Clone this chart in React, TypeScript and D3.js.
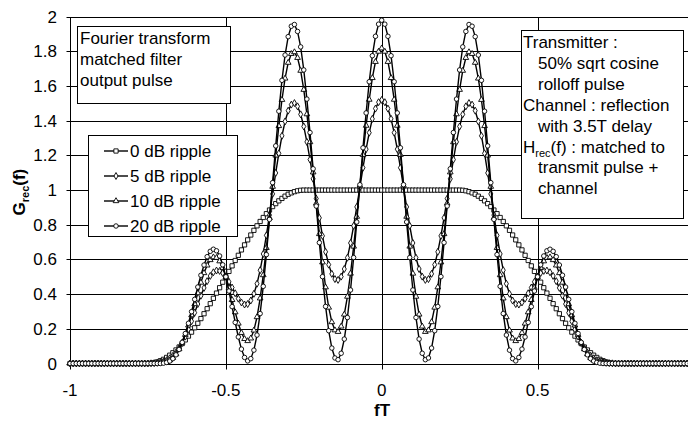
import React from "react";
import * as d3 from "d3";

// sampling grid of fT (step 0.01 from -1 to 1)
const fT: number[] = d3.range(-100, 101).map((k) => k / 100);

const ripple0dB = [
  0,0,0,0,0,0,0,0,0,0,0,0,0,0,0,0,0,0,0,0,0,0,0,0,0,
  0,0.001,0.004,0.009,0.016,0.024,0.035,0.048,0.062,0.078,
  0.095,0.115,0.136,0.158,0.181,0.206,0.232,0.259,0.287,0.316,
  0.345,0.376,0.406,0.437,0.469,0.5,0.531,0.563,0.594,0.624,
  0.655,0.684,0.713,0.741,0.768,0.794,0.819,0.842,0.864,0.885,
  0.905,0.922,0.938,0.952,0.965,0.976,0.984,0.991,0.996,0.999,
  1,1,1,1,1,1,1,1,1,1,1,1,1,1,1,1,1,1,1,1,1,1,1,1,1,
  1,
  1,1,1,1,1,1,1,1,1,1,1,1,1,1,1,1,1,1,1,1,1,1,1,1,1,
  0.999,0.996,0.991,0.984,0.976,0.965,0.952,0.938,0.922,0.905,
  0.885,0.864,0.842,0.819,0.794,0.768,0.741,0.713,0.684,0.655,
  0.624,0.594,0.563,0.531,0.5,0.469,0.437,0.406,0.376,0.345,
  0.316,0.287,0.259,0.232,0.206,0.181,0.158,0.136,0.115,0.095,
  0.078,0.062,0.048,0.035,0.024,0.016,0.009,0.004,0.001,0,
  0,0,0,0,0,0,0,0,0,0,0,0,0,0,0,0,0,0,0,0,0,0,0,0,0,
];

const ripple5dB = [
  0,0,0,0,0,0,0,0,0,0,0,0,0,0,0,0,0,0,0,0,0,0,0,0,0,
  0,0.001,0.002,0.004,0.008,
  0.012,0.019,0.030,0.044,0.063,0.088,0.118,0.155,0.197,0.244,
  0.293,0.343,0.391,0.436,0.475,0.505,0.526,0.536,0.534,0.522,
  0.500,0.471,0.438,0.405,0.374,0.352,0.340,0.343,0.363,0.402,
  0.460,0.538,0.632,0.739,0.856,0.978,1.099,1.212,1.313,1.396,
  1.458,1.493,1.502,1.483,1.437,1.367,1.278,1.176,1.065,0.951,
  0.840,0.736,0.644,0.570,0.517,0.487,0.482,0.501,0.545,0.610,
  0.695,0.794,0.903,1.016,1.129,1.236,1.331,1.411,1.470,1.507,
  1.520,
  1.507,1.470,1.411,1.331,1.236,1.129,1.016,0.903,0.794,0.695,
  0.610,0.545,0.501,0.482,0.487,0.517,0.570,0.644,0.736,0.840,
  0.951,1.065,1.176,1.278,1.367,1.437,1.483,1.502,1.493,1.458,
  1.396,1.313,1.212,1.099,0.978,0.856,0.739,0.632,0.538,0.460,
  0.402,0.363,0.343,0.340,0.352,0.374,0.405,0.438,0.471,0.500,
  0.522,0.534,0.536,0.526,0.505,0.475,0.436,0.391,0.343,0.293,
  0.244,0.197,0.155,0.118,0.088,0.063,0.044,0.030,0.019,0.012,
  0.008,0.004,0.002,0.001,0,
  0,0,0,0,0,0,0,0,0,0,0,0,0,0,0,0,0,0,0,0,0,0,0,0,0,
];

const ripple10dB = [
  0,0,0,0,0,0,0,0,0,0,0,0,0,0,0,0,0,0,0,0,0,0,0,0,0,
  0,0,0.001,0.002,0.003,
  0.005,0.010,0.019,0.033,0.054,0.083,0.121,0.166,0.220,0.279,
  0.343,0.406,0.467,0.522,0.566,0.597,0.613,0.610,0.590,0.552,
  0.500,0.437,0.367,0.296,0.231,0.177,0.142,0.130,0.145,0.191,
  0.268,0.376,0.510,0.667,0.840,1.020,1.200,1.370,1.521,1.644,
  1.735,1.786,1.796,1.763,1.689,1.579,1.438,1.277,1.103,0.923,
  0.747,0.584,0.440,0.323,0.239,0.192,0.183,0.214,0.283,0.386,
  0.519,0.675,0.847,1.026,1.204,1.372,1.522,1.647,1.740,1.799,
  1.818,
  1.799,1.740,1.647,1.522,1.372,1.204,1.026,0.847,0.675,0.519,
  0.386,0.283,0.214,0.183,0.192,0.239,0.323,0.440,0.584,0.747,
  0.923,1.103,1.277,1.438,1.579,1.689,1.763,1.796,1.786,1.735,
  1.644,1.521,1.370,1.200,1.020,0.840,0.667,0.510,0.376,0.268,
  0.191,0.145,0.130,0.142,0.177,0.231,0.296,0.367,0.437,0.500,
  0.552,0.590,0.610,0.613,0.597,0.566,0.522,0.467,0.406,0.343,
  0.279,0.220,0.166,0.121,0.083,0.054,0.033,0.019,0.010,0.005,
  0.003,0.002,0.001,0,0,
  0,0,0,0,0,0,0,0,0,0,0,0,0,0,0,0,0,0,0,0,0,0,0,0,0,
];

const ripple20dB = [
  0,0,0,0,0,0,0,0,0,0,0,0,0,0,0,0,0,0,0,0,0,0,0,0,0,
  0,0,0,0,0,
  0.002,0.006,0.014,0.028,0.050,0.081,0.122,0.173,0.232,0.299,
  0.370,0.441,0.509,0.568,0.616,0.647,0.659,0.650,0.620,0.569,
  0.500,0.418,0.328,0.237,0.153,0.083,0.035,0.015,0.028,0.077,
  0.164,0.288,0.445,0.628,0.831,1.043,1.255,1.455,1.633,1.779,
  1.885,1.945,1.955,1.915,1.826,1.693,1.525,1.332,1.123,0.908,
  0.697,0.501,0.329,0.189,0.089,0.032,0.022,0.059,0.141,0.265,
  0.424,0.611,0.816,1.031,1.244,1.445,1.625,1.775,1.887,1.957,
  1.980,
  1.957,1.887,1.775,1.625,1.445,1.244,1.031,0.816,0.611,0.424,
  0.265,0.141,0.059,0.022,0.032,0.089,0.189,0.329,0.501,0.697,
  0.908,1.123,1.332,1.525,1.693,1.826,1.915,1.955,1.945,1.885,
  1.779,1.633,1.455,1.255,1.043,0.831,0.628,0.445,0.288,0.164,
  0.077,0.028,0.015,0.035,0.083,0.153,0.237,0.328,0.418,0.500,
  0.569,0.620,0.650,0.659,0.647,0.616,0.568,0.509,0.441,0.370,
  0.299,0.232,0.173,0.122,0.081,0.050,0.028,0.014,0.006,0.002,
  0,0,0,0,0,
  0,0,0,0,0,0,0,0,0,0,0,0,0,0,0,0,0,0,0,0,0,0,0,0,0,
];

const seriesNames = ["0 dB ripple", "5 dB ripple", "10 dB ripple", "20 dB ripple"];
const seriesValues = [ripple0dB, ripple5dB, ripple10dB, ripple20dB];
const markerKinds = ["square", "diamond", "triangle", "circle"];

const yTicks = [0, 0.2, 0.4, 0.6, 0.8, 1, 1.2, 1.4, 1.6, 1.8, 2];
const yTickLabels = ["0", "0.2", "0.4", "0.6", "0.8", "1", "1.2", "1.4", "1.6", "1.8", "2"];
const xTicks = [-1, -0.5, 0, 0.5, 1];
const xTickLabels = ["-1", "-0.5", "0", "0.5"];

const W = 688;
const H = 421;
const FONT = "Arial, 'Liberation Sans', Helvetica, sans-serif";
const FS = 17;

const x = d3.scaleLinear().domain([-1, 1]).range([70, 693.4]);
const y = d3.scaleLinear().domain([0, 2]).range([363.5, 16.7]);

const symbolFor: Record<string, d3.SymbolType> = {
  square: d3.symbolSquare,
  diamond: d3.symbolDiamond,
  triangle: d3.symbolTriangle,
  circle: d3.symbolCircle,
};
const sizeFor: Record<string, number> = {
  square: 18,
  diamond: 14,
  triangle: 14,
  circle: 16,
};

function markerPath(kind: string) {
  return d3.symbol().type(symbolFor[kind]).size(sizeFor[kind])() as string;
}

const snap = (v: number) => Math.round(v) + 0.5;

export default function App() {
  const line = d3
    .line<number>()
    .x((_, i) => x(fT[i]))
    .y((d) => y(d));

  const plotLeft = x(-1);
  const plotRight = x(1);
  const plotTop = y(2);
  const plotBottom = y(0);

  return (
    <svg
      width={W}
      height={H}
      viewBox={`0 0 ${W} ${H}`}
      style={{ position: "absolute", left: 0, top: 0, background: "#fff" }}
      fontFamily={FONT}
    >
      <rect x={0} y={0} width={W} height={H} fill="#fff" />
      {/* horizontal gridlines */}
      {yTicks.map((t) => (
        <line
          key={"gy" + t}
          x1={snap(plotLeft) - 4}
          x2={plotRight}
          y1={snap(y(t))}
          y2={snap(y(t))}
          stroke="#000"
          strokeWidth={1}
        />
      ))}
      {/* vertical gridlines */}
      {xTicks.map((t) => (
        <line
          key={"gx" + t}
          x1={snap(x(t))}
          x2={snap(x(t))}
          y1={snap(plotTop)}
          y2={snap(plotBottom) + 5}
          stroke="#000"
          strokeWidth={1}
        />
      ))}
      {/* y tick labels */}
      {yTicks.map((t, i) => (
        <text
          key={"ty" + t}
          x={57}
          y={y(t) + 6}
          textAnchor="end"
          fontSize={FS}
          fill="#000"
        >
          {yTickLabels[i]}
        </text>
      ))}
      {/* x tick labels */}
      {xTickLabels.map((lab, i) => (
        <text
          key={"tx" + i}
          x={x(xTicks[i])}
          y={396}
          textAnchor="middle"
          fontSize={FS}
          fill="#000"
        >
          {lab}
        </text>
      ))}
      {/* axis titles */}
      <text x={382} y={416} textAnchor="middle" fontSize={FS} fontWeight="bold">
        fT
      </text>
      <text
        transform={`translate(25, ${(plotTop + plotBottom) / 2 + 2}) rotate(-90)`}
        textAnchor="middle"
        fontSize={FS}
        fontWeight="bold"
      >
        G<tspan fontSize={11} dy={4}>rec</tspan>
        <tspan dy={-4}>(f)</tspan>
      </text>

      {/* text box: top-left */}
      <rect x={77.5} y={26.5} width={153} height={77} fill="#fff" stroke="#000" strokeWidth={1} />
      {["Fourier transform", "matched filter", "output pulse"].map((s, i) => (
        <text key={"tb1" + i} x={80} y={44 + i * 21} fontSize={FS}>
          {s}
        </text>
      ))}

      {/* text box: right */}
      <rect x={521.5} y={30.5} width={162} height={188} fill="#fff" stroke="#000" strokeWidth={1} />
      <text x={523} y={48} fontSize={FS}>Transmitter :</text>
      <text x={538} y={69} fontSize={FS}>50% sqrt cosine</text>
      <text x={538} y={90} fontSize={FS}>rolloff pulse</text>
      <text x={523} y={111} fontSize={FS}>Channel : reflection</text>
      <text x={538} y={132} fontSize={FS}>with 3.5T delay</text>
      <text x={523} y={153} fontSize={FS}>
        H<tspan fontSize={11} dy={4}>rec</tspan>
        <tspan dy={-4}>(f) : matched to</tspan>
      </text>
      <text x={538} y={173} fontSize={FS}>transmit pulse +</text>
      <text x={538} y={194} fontSize={FS}>channel</text>

      {/* series */}
      {seriesValues.map((vals, si) => (
        <g key={"s" + si}>
          <path d={line(vals) as string} fill="none" stroke="#000" strokeWidth={1.4} />
          {vals.map((v, i) => (
            <path
              key={i}
              d={markerPath(markerKinds[si])}
              transform={`translate(${x(fT[i])},${y(v)})`}
              fill="#fff"
              stroke="#000"
              strokeWidth={0.9}
            />
          ))}
        </g>
      ))}

      {/* legend */}
      <rect x={88.5} y={135.5} width={149} height={101} fill="#fff" stroke="#000" strokeWidth={1} />
      {seriesNames.map((name, i) => {
        const cy = 151 + i * 25;
        return (
          <g key={"lg" + i}>
            <line x1={104} x2={128} y1={cy} y2={cy} stroke="#000" strokeWidth={1.4} />
            <path
              d={markerPath(markerKinds[i])}
              transform={`translate(116,${cy})`}
              fill="#fff"
              stroke="#000"
              strokeWidth={0.9}
            />
            <text x={130} y={cy + 6} fontSize={FS}>
              {name}
            </text>
          </g>
        );
      })}
    </svg>
  );
}
